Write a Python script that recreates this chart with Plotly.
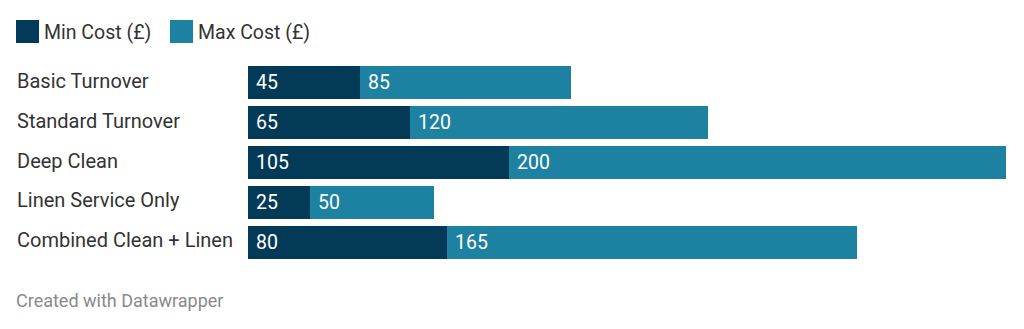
import plotly.graph_objects as go

categories = ["Basic Turnover", "Standard Turnover", "Deep Clean", "Linen Service Only", "Combined Clean + Linen"]
min_cost = [45, 65, 105, 25, 80]
max_cost = [85, 120, 200, 50, 165]
series_names = ["Min Cost (£)", "Max Cost (£)"]

DARK = "#033a57"
LIGHT = "#1d81a2"
FONT = "Roboto"
TEXT = "#333333"

fig = go.Figure()
fig.add_trace(go.Bar(y=categories, x=min_cost, orientation="h", marker=dict(color=DARK, line=dict(width=0)),
                     name=series_names[0], showlegend=False, hoverinfo="skip"))
fig.add_trace(go.Bar(y=categories, x=max_cost, orientation="h", marker=dict(color=LIGHT, line=dict(width=0)),
                     name=series_names[1], showlegend=False, hoverinfo="skip"))

annotations = []
for c, mn, mx in zip(categories, min_cost, max_cost):
    annotations.append(dict(x=0, y=c, xref="x", yref="y", text=str(mn), showarrow=False,
                            xanchor="left", xshift=6, font=dict(family=FONT, size=19.5, color="white")))
    annotations.append(dict(x=mn, y=c, xref="x", yref="y", text=str(mx), showarrow=False,
                            xanchor="left", xshift=6, font=dict(family=FONT, size=19.5, color="white")))
    annotations.append(dict(x=0, y=c, xref="paper", yref="y", text=c, showarrow=False,
                            xanchor="left", xshift=-233, yshift=2, font=dict(family=FONT, size=20, color=TEXT)))

# legend
fig_w, fig_h = 1024, 329
ml, mr, mt, mb = 248, 18, 63, 67
pw = fig_w - ml - mr
ph = fig_h - mt - mb

def px2paper_x(px):
    return (px - ml) / pw

def px2paper_y(py):
    return 1 - (py - mt) / ph

shapes = []
legend_items = [(16, series_names[0], DARK), (170, series_names[1], LIGHT)]
for x0, name, col in legend_items:
    shapes.append(dict(type="rect", xref="paper", yref="paper",
                       x0=px2paper_x(x0), x1=px2paper_x(x0 + 23),
                       y0=px2paper_y(43), y1=px2paper_y(20),
                       fillcolor=col, line=dict(width=0)))
    annotations.append(dict(x=px2paper_x(x0 + 26), y=px2paper_y(32), xref="paper", yref="paper",
                            text=name, showarrow=False, xanchor="left", yanchor="middle",
                            font=dict(family=FONT, size=19.5, color=TEXT)))

annotations.append(dict(x=px2paper_x(14), y=px2paper_y(300), xref="paper", yref="paper",
                        text="Created with Datawrapper", showarrow=False, xanchor="left", yanchor="middle",
                        font=dict(family=FONT, size=18, color="#8a8a8a")))

fig.update_layout(
    width=fig_w, height=fig_h,
    margin=dict(l=ml, r=mr, t=mt, b=mb),
    barmode="stack", bargap=0.17,
    plot_bgcolor="white", paper_bgcolor="white",
    xaxis=dict(range=[0, max(a + b for a, b in zip(min_cost, max_cost))], visible=False, fixedrange=True),
    yaxis=dict(autorange="reversed", showticklabels=False, showgrid=False, zeroline=False, fixedrange=True),
    annotations=annotations, shapes=shapes,
    showlegend=False,
)

fig.write_html("out.html", config={"displayModeBar": False})
